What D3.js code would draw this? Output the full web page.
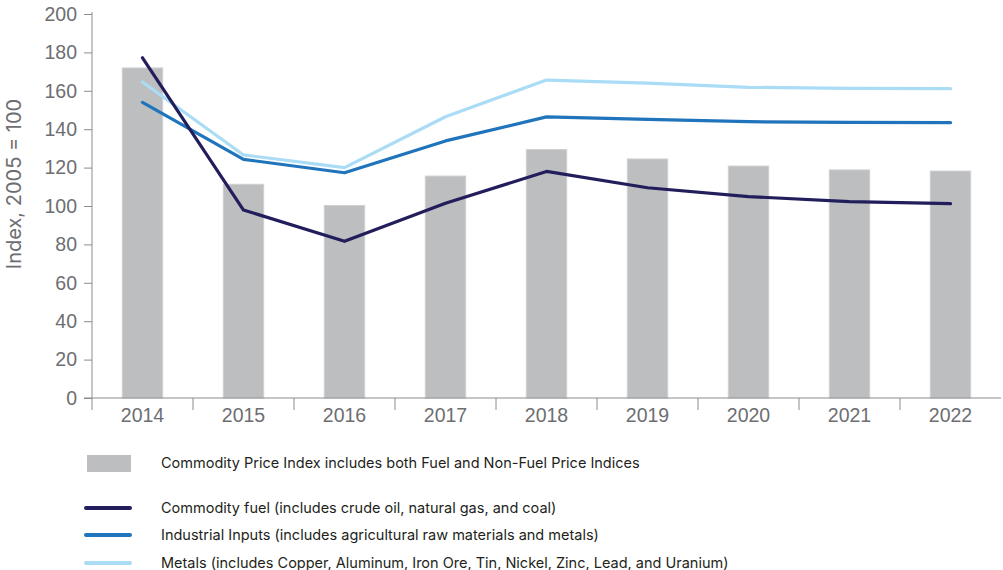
<!DOCTYPE html>
<html>
<head>
<meta charset="utf-8">
<script src="https://cdn.jsdelivr.net/npm/d3@7"></script>
<style>
  body { margin: 0; background: #fff; }
  svg { display: block; font-family: Inter, "Liberation Sans", Arial, sans-serif; }
</style>
</head>
<body>
<svg id="chart"></svg>
<script>
// data
const years = ['2014', '2015', '2016', '2017', '2018', '2019', '2020', '2021', '2022'];
const commodityIndex = [171.9, 111.3, 100.3, 115.6, 129.4, 124.5, 120.8, 118.8, 118.2];
const fuel = [177.2, 97.9, 81.6, 101.4, 118.0, 109.5, 104.9, 102.3, 101.2];
const industrial = [154.0, 124.3, 117.3, 133.9, 146.4, 145.1, 143.9, 143.6, 143.4];
const metals = [164.6, 126.6, 120.0, 146.5, 165.6, 164.0, 161.8, 161.3, 161.1];
const yTicks = [0, 20, 40, 60, 80, 100, 120, 140, 160, 180, 200];

const legendBar = 'Commodity Price Index includes both Fuel and Non-Fuel Price Indices';
const lineSeries = [
  {name: 'Commodity fuel (includes crude oil, natural gas, and coal)', values: fuel, color: '#221e5c'},
  {name: 'Industrial Inputs (includes agricultural raw materials and metals)', values: industrial, color: '#1f74bb'},
  {name: 'Metals (includes Copper, Aluminum, Iron Ore, Tin, Nickel, Zinc, Lead, and Uranium)', values: metals, color: '#aadcf6'}
];

let width = 1003;
let height = 570;
let margin = {left: 92, top: 14, right: 2, bottom: 172};
let axisColor = '#8c8c8c';
let textColor = '#6d6e71';

let svg = d3.select('#chart')
  .attr('width', width)
  .attr('height', height);

let xScale = d3.scaleBand()
  .domain(years)
  .range([margin.left, width - margin.right])
  .padding(0);

let yScale = d3.scaleLinear()
  .domain([0, 200])
  .range([height - margin.bottom, margin.top]);

let barW = xScale.bandwidth() * 0.4;
let cx = d => xScale(d) + xScale.bandwidth() / 2;

// bars
svg.append('g')
  .selectAll('rect')
  .data(years)
  .enter()
  .append('rect')
  .attr('x', d => cx(d) - barW / 2)
  .attr('y', (d, i) => yScale(commodityIndex[i]))
  .attr('width', barW)
  .attr('height', (d, i) => yScale(0) - yScale(commodityIndex[i]))
  .attr('fill', '#bdbec0')
  .attr('stroke', '#cfd0d2')
  .attr('stroke-width', 1);

// y axis
let gY = svg.append('g')
  .attr('transform', 'translate(' + margin.left + ',0)')
  .call(d3.axisLeft(yScale).tickValues(yTicks).tickSize(8).tickPadding(7));
gY.select('.domain').remove();
gY.selectAll('.tick line').attr('stroke', axisColor);
gY.selectAll('.tick text')
  .attr('fill', textColor)
  .style('font-size', '19.5px');
svg.append('line')
  .attr('x1', margin.left).attr('x2', margin.left)
  .attr('y1', margin.top - 2).attr('y2', yScale(0) + 12)
  .attr('stroke', axisColor);

// x axis: labels centred, ticks on band edges
let gX = svg.append('g')
  .attr('transform', 'translate(0,' + yScale(0) + ')')
  .call(d3.axisBottom(xScale).tickSize(0).tickPadding(10));
gX.select('.domain').remove();
gX.selectAll('.tick text')
  .attr('fill', textColor)
  .style('font-size', '19.5px');
svg.append('line')
  .attr('x1', margin.left - 8).attr('x2', xScale.range()[1])
  .attr('y1', yScale(0)).attr('y2', yScale(0))
  .attr('stroke', axisColor);
let edges = years.map(d => xScale(d));
svg.append('g')
  .selectAll('line')
  .data(edges.slice(1))
  .enter()
  .append('line')
  .attr('x1', d => d).attr('x2', d => d)
  .attr('y1', yScale(0)).attr('y2', yScale(0) + 12)
  .attr('stroke', axisColor);

// y axis title
svg.append('text')
  .attr('transform', 'translate(21,184) rotate(-90)')
  .attr('text-anchor', 'middle')
  .attr('fill', textColor)
  .style('font-size', '20px')
  .text('Index, 2005 = 100');

// lines
let line = d3.line()
  .x((d, i) => cx(years[i]))
  .y(d => yScale(d));

svg.append('g')
  .selectAll('path')
  .data(lineSeries.slice().reverse())
  .enter()
  .append('path')
  .attr('d', s => line(s.values))
  .attr('fill', 'none')
  .attr('stroke', s => s.color)
  .attr('stroke-width', 3.2)
  .attr('stroke-linecap', 'round')
  .attr('stroke-linejoin', 'round');

// legend
let legend = svg.append('g');
legend.append('rect')
  .attr('x', 87).attr('y', 455)
  .attr('width', 44).attr('height', 17)
  .attr('fill', '#bdbec0');
legend.append('text')
  .attr('x', 161).attr('y', 462)
  .attr('dominant-baseline', 'central')
  .attr('fill', '#231f20')
  .style('font-size', '14.5px')
  .text(legendBar);

let legendY = [508, 535, 563];
lineSeries.forEach((s, i) => {
  legend.append('line')
    .attr('x1', 86).attr('x2', 130)
    .attr('y1', legendY[i]).attr('y2', legendY[i])
    .attr('stroke', s.color)
    .attr('stroke-width', 4)
    .attr('stroke-linecap', 'round');
  legend.append('text')
    .attr('x', 161).attr('y', legendY[i] - 1)
    .attr('dominant-baseline', 'central')
    .attr('fill', '#231f20')
    .style('font-size', '14.5px')
    .text(s.name);
});
</script>
</body>
</html>
